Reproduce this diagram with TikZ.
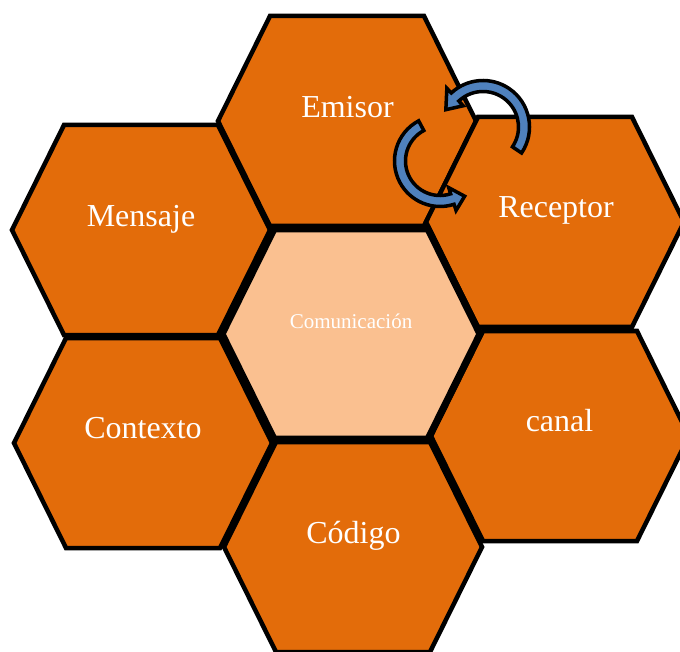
\documentclass[tikz,border=0pt]{standalone}
\usepackage{fontspec}
\setmainfont{Liberation Serif}
\definecolor{hexorange}{RGB}{227,108,10}
\definecolor{hexlight}{RGB}{250,192,144}
\definecolor{arrowblue}{RGB}{79,129,189}
\tikzset{
    cell/.style={fill=hexorange, draw=black, line width=4.5},
    lbl/.style={text=white, font=\fontsize{32}{38}\selectfont, anchor=base},
    turn/.style={fill=arrowblue, draw=black, line width=3.5}
}

\begin{document}
\begin{tikzpicture}[x=1pt, y=-1pt]
    \useasboundingbox (0,0) rectangle (680,652);

    % outer cells
    \foreach \cx/\cy in {347/121, 141/230, 555/222, 143/443, 560/436, 353/547}
        \draw[cell] (\cx,\cy) ++(-129,0) -- ++(52,-105) -- ++(154,0) -- ++(52,105) -- ++(-52,105) -- ++(-154,0) -- cycle;

    % centre cell
    \draw[cell, fill=hexlight, line width=7] (351,334) ++(-129,0) -- ++(52,-105) -- ++(154,0) -- ++(52,105) -- ++(-52,105) -- ++(-154,0) -- cycle;

    \draw
    (347.5, 118) node[lbl](E){Emisor}
    (141, 227) node[lbl](M){Mensaje}
    (556, 218) node[lbl](R){Receptor}
    (143, 438) node[lbl](X){Contexto}
    (559.5, 431) node[lbl](K){canal}
    (353.5, 543) node[lbl](D){Código}
    (351, 328) node[lbl, font=\fontsize{21}{25}\selectfont](C){Comunicación};

    % curved arrows
    \begin{scope}[shift={(483,127)}]
        \filldraw[turn] (34:46.5) arc[start angle=34, end angle=-133, radius=46.5] -- (-133:53) -- (-155:41) -- (-133:29) -- (-133:35.5) arc[start angle=-133, end angle=34, radius=35.5] -- cycle;
    \end{scope}
    \begin{scope}[shift={(440,161)}]
        \filldraw[turn] (242:45.5) arc[start angle=242, end angle=72, radius=45.5] -- (72:52) -- (55:43) -- (72:28) -- (72:34.5) arc[start angle=72, end angle=242, radius=34.5] -- cycle;
    \end{scope}

\end{tikzpicture}
\end{document}
